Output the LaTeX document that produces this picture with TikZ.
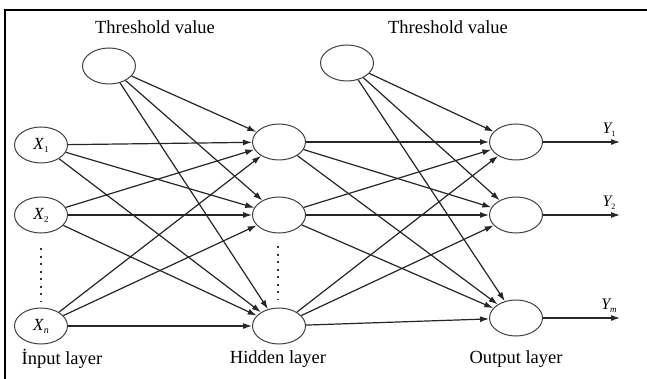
\documentclass[tikz,border=0pt]{standalone}
\usepackage{fontspec}
\setmainfont{Liberation Serif}
\usetikzlibrary{shapes.geometric,arrows.meta}
\begin{document}
\begin{tikzpicture}[x=1pt,y=-1pt,
  neuron/.style={ellipse,draw=black!75,line width=1pt,minimum width=53pt,minimum height=36pt,inner sep=0pt,fill=white,font=\fontsize{17}{19}\selectfont},
  conn/.style={draw=black!85,line width=1.2pt,-{Latex[length=9pt,width=6pt]}},
  lbl/.style={font=\fontsize{18.5}{20}\selectfont,inner sep=0pt},
  yl/.style={font=\fontsize{16}{18}\selectfont\itshape,inner sep=0pt},
  dots/.style={draw=black!80,line width=2pt,dash pattern=on 2pt off 5.5pt}]
\useasboundingbox (0,0) rectangle (647,379);
\fill[white] (0,0) rectangle (647,379);
\draw[line width=2pt] (5,380) -- (5,10) -- (648,10);
% nodes
\node[neuron] (t1) at (109,66) {};
\node[neuron] (t2) at (347,63) {};
\node[neuron] (x1) at (41,145) {\textit{X}\raisebox{-0.4ex}{\fontsize{9}{10}\selectfont 1}};
\node[neuron] (x2) at (41,215) {\textit{X}\raisebox{-0.4ex}{\fontsize{9}{10}\selectfont 2}};
\node[neuron] (xn) at (41,326) {\textit{X}\raisebox{-0.4ex}{\fontsize{10}{10}\selectfont\itshape n}};
\node[neuron] (h1) at (279,142) {};
\node[neuron] (h2) at (279,215) {};
\node[neuron] (h3) at (279,326) {};
\node[neuron] (o1) at (516,142) {};
\node[neuron] (o2) at (516,215) {};
\node[neuron] (o3) at (516,318) {};
% labels
\node[lbl] (lt1) at (155,27) {Threshold value};
\node[lbl] (lt2) at (448,27) {Threshold value};
\node[lbl] (li) at (62,359) {İnput layer};
\node[lbl] (lh) at (278,359) {Hidden layer};
\node[lbl] (lo) at (516,359) {Output layer};
% edges
\foreach \s in {x1,x2,xn}{
  \foreach \t in {h1,h2,h3}{
    \draw[conn] (\s) -- (\t);
  }
}
\foreach \s in {h1,h2,h3}{
  \foreach \t in {o1,o2,o3}{
    \draw[conn] (\s) -- (\t);
  }
}
\foreach \t in {h1,h2,h3}{\draw[conn] (t1) -- (\t);}
\foreach \t in {o1,o2,o3}{\draw[conn] (t2) -- (\t);}
% outputs
\coordinate (e1) at (620,142);
\coordinate (e2) at (620,215);
\coordinate (e3) at (620,318);
\draw[conn] (o1) -- (e1);
\draw[conn] (o2) -- (e2);
\draw[conn] (o3) -- (e3);
\node[yl] (y1) at (609,130) {Y\raisebox{-0.4ex}{\fontsize{8}{8}\selectfont\upshape 1}};
\node[yl] (y2) at (609,203) {Y\raisebox{-0.4ex}{\fontsize{8}{8}\selectfont\upshape 2}};
\node[yl] (ym) at (609,306) {Y\raisebox{-0.4ex}{\fontsize{9}{9}\selectfont m}};
% dots
\coordinate (d1a) at (41,248);
\coordinate (d1b) at (41,302);
\draw[dots] (d1a) -- (d1b);
\coordinate (d2a) at (278,246);
\coordinate (d2b) at (278,300);
\draw[dots] (d2a) -- (d2b);
\end{tikzpicture}
\end{document}
